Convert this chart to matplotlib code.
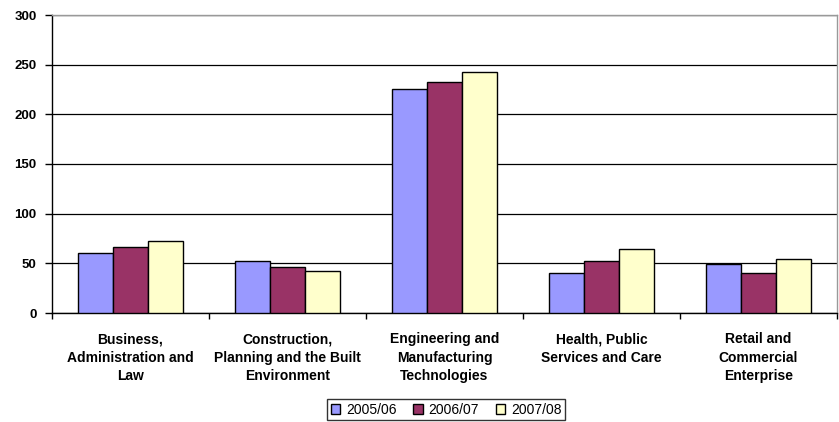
import numpy as np
import matplotlib
matplotlib.use("Agg")
import matplotlib.pyplot as plt

# Chart data
categories = [
    "Business,\nAdministration and\nLaw",
    "Construction,\nPlanning and the Built\nEnvironment",
    "Engineering and\nManufacturing\nTechnologies",
    "Health, Public\nServices and Care",
    "Retail and\nCommercial\nEnterprise",
]
series_names = ["2005/06", "2006/07", "2007/08"]
vals_0506 = [60, 52, 225, 40, 49]
vals_0607 = [66, 46, 233, 52, 40]
vals_0708 = [72, 42, 243, 64, 54]
y_ticks = [0, 50, 100, 150, 200, 250, 300]

colors = ["#9999FF", "#993366", "#FFFFCC"]

plt.rcParams['font.family'] = ['Liberation Sans', 'DejaVu Sans']

fig = plt.figure(figsize=(8.39, 4.22), dpi=100)
ax = fig.add_axes([52 / 839, 1 - 313 / 422, 785 / 839, 298 / 422])

x = np.arange(len(categories))
width = 1 / 4.5
for i, (vals, name) in enumerate(zip([vals_0506, vals_0607, vals_0708], series_names)):
    ax.bar(x + (i - 1) * width, vals, width, color=colors[i], edgecolor="black",
           linewidth=1.0, label=name, zorder=3)

ax.set_xlim(-0.5, len(categories) - 0.5)
ax.set_ylim(0, 300)
ax.set_yticks(y_ticks)
ax.set_yticklabels([str(v) for v in y_ticks], fontsize=9.5, fontweight="bold")
ax.yaxis.grid(True, color="black", linewidth=0.9, zorder=0)
ax.set_axisbelow(True)

# category labels centred, ticks on category boundaries
ax.set_xticks(x)
ax.set_xticklabels(categories, fontsize=10, fontweight="bold", linespacing=1.38)
ax.tick_params(axis="x", length=0, pad=14)
ax.set_xticks(np.arange(len(categories) + 1) - 0.5, minor=True)
ax.tick_params(axis="x", which="minor", length=4, width=1, direction="out")
ax.tick_params(axis="y", length=5, width=1, direction="out", pad=6)

for s in ["left", "bottom"]:
    ax.spines[s].set_color("black")
    ax.spines[s].set_linewidth(1.0)
for s in ["top", "right"]:
    ax.spines[s].set_color("#999999")
    ax.spines[s].set_linewidth(1.0)

leg = fig.legend(loc="center", bbox_to_anchor=(446 / 839, 1 - 409.5 / 422), ncol=3,
                 fontsize=10, frameon=True, fancybox=False, edgecolor="black",
                 handlelength=0.7, handleheight=0.7, handletextpad=0.4,
                 columnspacing=1.2, borderpad=0.25)
leg.get_frame().set_linewidth(1.0)

fig.savefig("out.png", dpi=100)
